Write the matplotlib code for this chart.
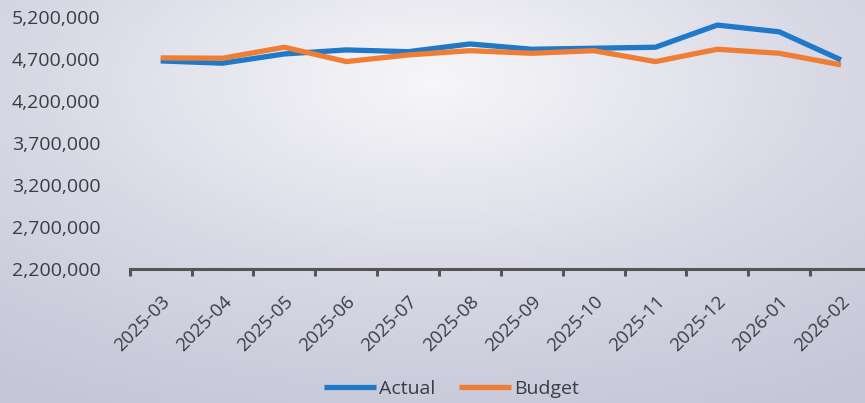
import numpy as np
import matplotlib
matplotlib.use("Agg")
import matplotlib.pyplot as plt
from matplotlib.ticker import FuncFormatter, FixedLocator
from matplotlib.colors import LinearSegmentedColormap

# monthly values
months = ["2025-03", "2025-04", "2025-05", "2025-06", "2025-07", "2025-08",
          "2025-09", "2025-10", "2025-11", "2025-12", "2026-01", "2026-02"]
actual = [4676000, 4649000, 4759000, 4807000, 4786000, 4878000,
          4815000, 4827000, 4839000, 5103000, 5023000, 4688000]
budget = [4712000, 4708000, 4839000, 4668000, 4747000, 4798000,
          4767000, 4798000, 4668000, 4815000, 4767000, 4629000]
yticks = [2200000, 2700000, 3200000, 3700000, 4200000, 4700000, 5200000]

plt.rcParams['font.family'] = ['Open Sans', 'DejaVu Sans']
txt = '#3c3c46'

fig = plt.figure(figsize=(8.65, 4.03), dpi=100)

# paper-ish background: light centre, greyish-lavender edges
paper = LinearSegmentedColormap.from_list('paper', ['#f7f7f9', '#d9dae6', '#c4c5d6'])
bg = fig.add_axes([0, 0, 1, 1], zorder=-10)
gx, gy = np.meshgrid(np.linspace(-1, 1, 200), np.linspace(-1, 1, 100))
r = np.sqrt((gx * 0.85) ** 2 + ((gy + 0.6) * 0.8) ** 2)
bg.imshow(r, cmap=paper, vmin=0.0, vmax=1.5, aspect='auto', extent=[0, 1, 0, 1])
bg.axis('off')

ax = fig.add_axes([0.150, 0.333, 0.858, 0.625])
ax.patch.set_alpha(0)

x = np.arange(len(months))
ax.plot(x, actual, color='#1F78C8', lw=3.8, solid_capstyle='butt', label='Actual', zorder=3)
ax.plot(x, budget, color='#EE7E35', lw=3.8, solid_capstyle='butt', label='Budget', zorder=4)

ax.set_xlim(-0.5, len(months) - 0.5)
ax.set_ylim(yticks[0], yticks[-1])
ax.set_yticks(yticks)
ax.yaxis.set_major_formatter(FuncFormatter(lambda v, p: f"{int(v):,}"))

# excel style: ticks between categories, labels at centres
ax.xaxis.set_major_locator(FixedLocator(np.arange(-0.5, len(months), 1.0)))
ax.xaxis.set_major_formatter(FuncFormatter(lambda v, p: ""))
ax.set_xticks(x, minor=True)
ax.set_xticklabels(months, minor=True, rotation=45, ha='right', rotation_mode='anchor',
                   fontsize=13.5, color=txt)
ax.tick_params(axis='x', which='minor', length=0, pad=17)
ax.tick_params(axis='x', which='major', length=5, width=2.2, color='#555555', direction='out')
ax.tick_params(axis='y', length=0, labelsize=14, labelcolor=txt, pad=21)

for s in ['top', 'right', 'left']:
    ax.spines[s].set_visible(False)
ax.spines['bottom'].set_color('#555555')
ax.spines['bottom'].set_linewidth(2.2)

fig.legend(loc='lower center', bbox_to_anchor=(0.522, -0.03), ncol=2, frameon=False,
           fontsize=14, handlelength=2.7, handletextpad=0.15, columnspacing=1.2,
           labelcolor=txt)

fig.savefig("out.png", dpi=100)
